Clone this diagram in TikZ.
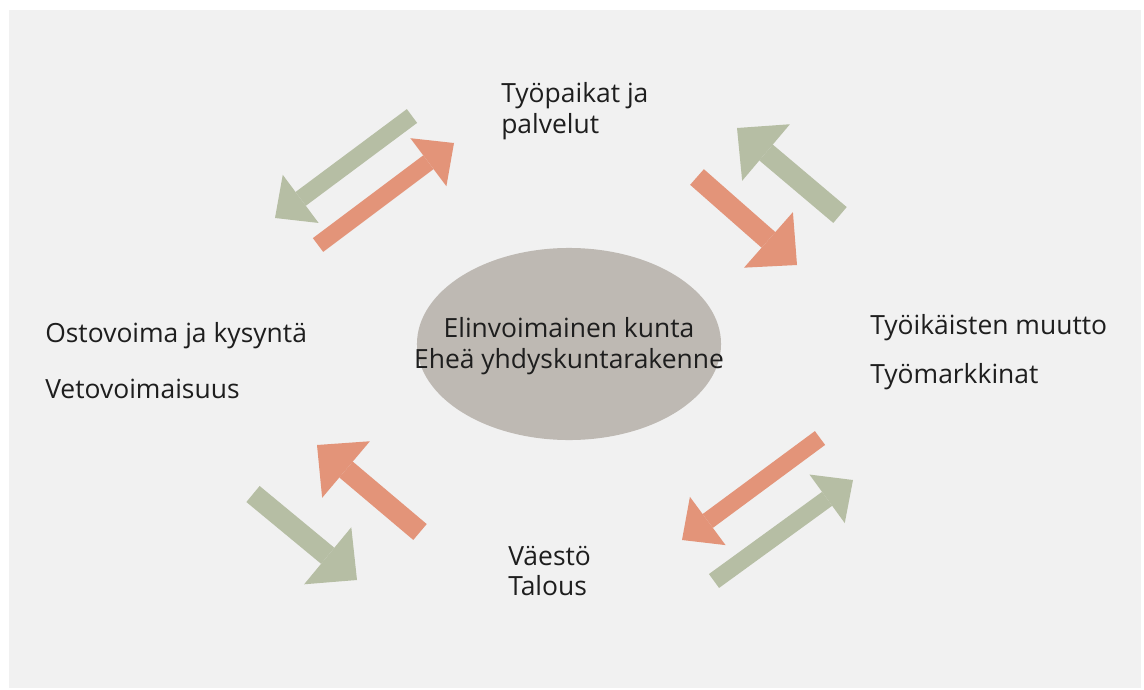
\documentclass[tikz,border=0pt]{standalone}
\usepackage{fontspec}
\setmainfont{Open Sans}
\usepackage{xcolor}
\usetikzlibrary{arrows.meta,shapes}
\definecolor{sage}{RGB}{182,190,164}
\definecolor{salmon}{RGB}{227,148,121}
\definecolor{stone}{RGB}{190,185,179}
\definecolor{paper}{RGB}{241,241,241}
\definecolor{ink}{RGB}{30,30,30}

\begin{document}
\begin{tikzpicture}[x=0.025cm, y=-0.025cm, -,
thin arrow/.style={line width=0.43cm, -{Triangle[length=0.8cm,width=1.5cm,line width=0pt]}},
fat arrow/.style={line width=0.52cm, -{Triangle[length=0.95cm,width=1.85cm,line width=0pt]}},
txt/.style={anchor=base west, inner sep=0pt, text=ink, font=\fontsize{18.8}{22}\selectfont},
mid/.style={txt, anchor=base}]
\useasboundingbox (0,0) rectangle (1144,690);
\fill[white] (0,0) rectangle (1144,690);
\fill[paper] (9,10) rectangle (1141,688);
% centre
\node[ellipse, fill=stone, minimum width=7.6cm, minimum height=4.8cm] (0) at (569,344) {};
\node[mid] (c1) at (569,337) {Elinvoimainen kunta};
\node[mid] (c2) at (569,368) {Eheä yhdyskuntarakenne};
% labels
\node[txt] (t1) at (501,102) {Työpaikat ja};
\node[txt] (t2) at (501,133) {palvelut};
\node[txt] (l1) at (45,342) {Ostovoima ja kysyntä};
\node[txt] (l2) at (45,398) {Vetovoimaisuus};
\node[txt] (r1) at (870,334) {Työikäisten muutto};
\node[txt] (r2) at (870,383) {Työmarkkinat};
\node[txt] (b1) at (508,565) {Väestö};
\node[txt] (b2) at (508,595) {Talous};
% arrow ends
\coordinate (1) at (412,116);
\coordinate (2) at (275,218);
\coordinate (3) at (318,245);
\coordinate (4) at (454,143);
\coordinate (5) at (697,177);
\coordinate (6) at (797,265);
\coordinate (7) at (840,215);
\coordinate (8) at (737,128);
\coordinate (9) at (253,494);
\coordinate (10) at (357,580);
\coordinate (11) at (420,532);
\coordinate (12) at (317,445);
\coordinate (13) at (820,438);
\coordinate (14) at (682,540);
\coordinate (15) at (714,581);
\coordinate (16) at (853,480);
\path
(1) edge[thin arrow, sage] (2)
(3) edge[thin arrow, salmon] (4)
(5) edge[fat arrow, salmon] (6)
(7) edge[fat arrow, sage] (8)
(9) edge[fat arrow, sage] (10)
(11) edge[fat arrow, salmon] (12)
(13) edge[thin arrow, salmon] (14)
(15) edge[thin arrow, sage] (16);
\end{tikzpicture}
\end{document}
